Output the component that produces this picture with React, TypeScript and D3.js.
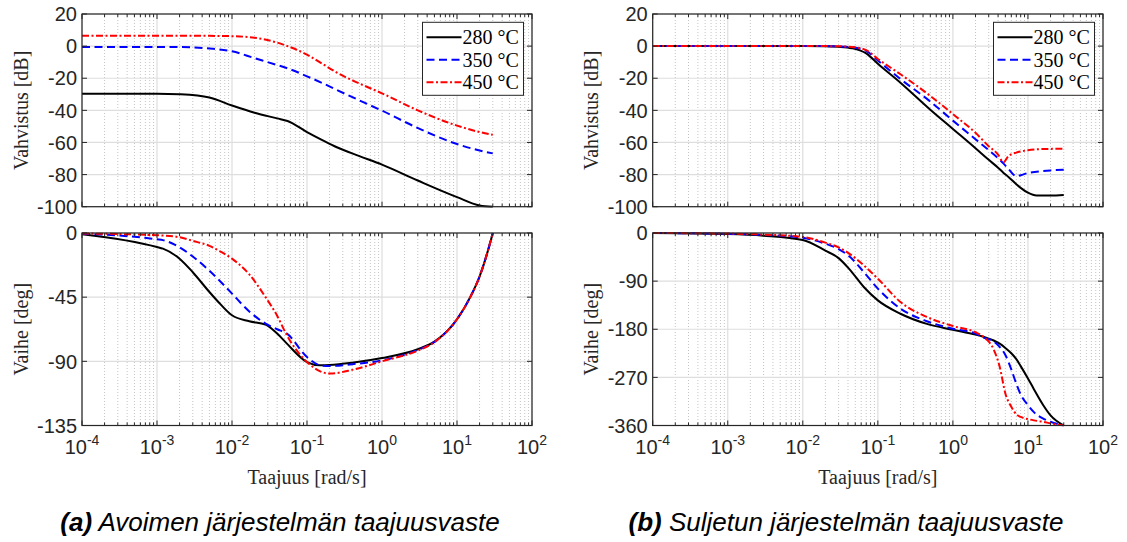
import React from 'react';
import * as d3 from 'd3';

const W = 1127;
const H = 542;

const seriesNames = ['280 °C', '350 °C', '450 °C'];
const seriesColors = ['#000000', '#0000ff', '#ff0000'];
const seriesDash = ['none', '8,4.5', '7,2.5,2,2.5'];

const xTickExps = [-4, -3, -2, -1, 0, 1, 2];

// (a) open loop – gain [dB]
const freqOpenGain = [1e-4, 1e-3, 0.002, 0.005, 0.01, 0.02, 0.04, 0.055, 0.1, 0.16, 0.25, 0.5, 1, 3, 10, 20, 30];
const openGain280 = [-29.6, -29.6, -30.0, -32.0, -37.0, -41.5, -45.0, -46.6, -53.5, -58.5, -63.0, -68.5, -73.8, -83.7, -94.0, -99.2, -100];
const openGain350 = [-0.5, -0.5, -0.6, -1.5, -3.2, -7.5, -11.8, -13.8, -18.8, -23.0, -27.3, -33.8, -40.2, -51.0, -61.0, -65.0, -66.8];
const openGain450 = [6.5, 6.5, 6.5, 6.4, 6.2, 5.2, 2.2, 0.0, -5.3, -11.0, -16.5, -23.3, -29.4, -40.0, -49.5, -53.5, -55.2];

// (a) open loop – phase [deg]
const freqOpenPhase = [1e-4, 1e-3, 0.0012, 0.002, 0.003, 0.005, 0.007, 0.01, 0.017, 0.028, 0.04, 0.054, 0.1, 0.15, 0.2, 0.4, 1, 3, 5, 10, 15, 20, 25, 30];
const openPhase280 = [-0.8, -9.8, -11.0, -18.0, -27.5, -41.4, -49.9, -57.7, -61.9, -64.3, -70.5, -77.6, -90.5, -92.8, -92.6, -91.0, -87.7, -81.5, -76.2, -60.5, -45.0, -30.5, -15.0, 0];
const openPhase350 = [-0.5, -4.4, -5.0, -10.0, -16.5, -26.5, -34.0, -42.5, -55.0, -63.5, -67.5, -70.6, -87.0, -92.8, -93.3, -92.0, -89.3, -82.0, -76.4, -60.5, -45.0, -30.5, -15.0, 0];
const openPhase450 = [-0.3, -1.6, -1.8, -3.0, -5.5, -9.0, -13.0, -18.0, -29.0, -45.0, -58.0, -71.8, -90.5, -97.0, -98.6, -96.0, -90.0, -82.5, -76.6, -60.5, -45.0, -30.5, -15.0, 0];

// (b) closed loop – gain [dB]
const freqClosedGain = [1e-4, 0.01, 0.02, 0.03, 0.045, 0.07, 0.1, 0.2, 0.5, 1, 2, 3, 4, 4.7, 5.5, 7, 8, 10, 13, 20, 30];
const closedGain280 = [0, 0, -0.1, -0.4, -1.3, -4.5, -11.0, -22.8, -39.6, -51.6, -63.6, -70.8, -75.7, -78.8, -81.5, -86.0, -88.3, -91.3, -93.1, -93.1, -92.7];
const closedGain350 = [0, 0, 0, -0.2, -0.7, -3.0, -9.0, -20.5, -34.5, -46.4, -58.0, -64.8, -69.8, -73.0, -76.5, -81.0, -80.4, -79.0, -78.2, -77.4, -77.0];
const closedGain450 = [0, 0, 0, -0.1, -0.5, -2.5, -8.0, -17.5, -31.0, -42.3, -54.0, -62.3, -67.5, -72.3, -68.5, -66.3, -65.6, -64.8, -64.3, -64.0, -63.9];

// (b) closed loop – phase [deg]
const freqClosedPhase = [1e-4, 1e-3, 0.003, 0.01, 0.02, 0.03, 0.042, 0.065, 0.1, 0.2, 0.45, 1, 2, 2.6, 3.5, 4.2, 5, 6, 7, 8, 10, 12, 16, 20, 30];
const closedPhase280 = [-0.2, -2, -5, -13, -33, -47, -68, -101, -126, -151, -170, -181, -190, -194.5, -201, -207, -215, -225, -236, -249, -272, -292, -322, -341, -360];
const closedPhase350 = [0, -1.5, -3.5, -9, -20, -30, -44, -73, -104, -141.5, -165, -179, -188, -196, -203, -213, -228, -255, -282, -302, -322, -335, -347, -353, -360];
const closedPhase450 = [0, -1, -3, -7.5, -18, -27, -39, -60.5, -85.4, -129, -157, -174, -185.5, -195, -218, -250, -300, -325, -339, -344, -348, -350.4, -353, -356, -360];

const gainTicks = [20, 0, -20, -40, -60, -80, -100];
const openPhaseTicks = [0, -45, -90, -135];
const closedPhaseTicks = [0, -90, -180, -270, -360];

const captionTags = ['(a)', '(b)'];
const captionTexts = ['Avoimen järjestelmän taajuusvaste', 'Suljetun järjestelmän taajuusvaste'];

const SANS = "'Liberation Sans', Arial, Helvetica, sans-serif";
const SERIF = "'Liberation Serif', 'Times New Roman', Times, serif";
const AXIS = '#262626';

type PanelProps = {
  id: string;
  x0: number;
  x1: number;
  y0: number;
  y1: number;
  yDomain: [number, number];
  yTicks: number[];
  freqs: number[];
  values: number[][];
  ylabel: string;
  legend?: boolean;
  xAxisLabels?: boolean;
};

function Panel(p: PanelProps) {
  const x = d3.scaleLog().domain([1e-4, 1e2]).range([p.x0, p.x1]);
  const y = d3.scaleLinear().domain(p.yDomain).range([p.y1, p.y0]);
  const majors = xTickExps.map((e) => Math.pow(10, e));
  const minors: number[] = [];
  for (let e = -4; e < 2; e++) {
    for (let k = 2; k <= 9; k++) minors.push(k * Math.pow(10, e));
  }
  const line = d3
    .line<number>()
    .x((_, i) => x(p.freqs[i]))
    .y((v) => y(v))
    .curve(d3.curveMonotoneX);
  const majorLen = 5;
  const minorLen = 3;
  const lw = 101;
  const lh = 73;
  const lx = p.x1 - 8.5 - lw;
  const ly = p.y0 + 8.3;
  return (
    <g>
      <defs>
        <clipPath id={p.id}>
          <rect x={p.x0} y={p.y0 - 1} width={p.x1 - p.x0} height={p.y1 - p.y0 + 2} />
        </clipPath>
      </defs>
      <rect x={p.x0} y={p.y0} width={p.x1 - p.x0} height={p.y1 - p.y0} fill="#ffffff" />
      {minors.map((m, i) => (
        <line key={'mg' + i} x1={x(m)} x2={x(m)} y1={p.y0} y2={p.y1} stroke="#c4c4c4" strokeWidth={1} strokeDasharray="1,2" />
      ))}
      {majors.map((m, i) => (
        <line key={'Mg' + i} x1={x(m)} x2={x(m)} y1={p.y0} y2={p.y1} stroke="#dedede" strokeWidth={1.2} />
      ))}
      {p.yTicks.map((t, i) => (
        <line key={'yg' + i} x1={p.x0} x2={p.x1} y1={y(t)} y2={y(t)} stroke="#dedede" strokeWidth={1.2} />
      ))}
      <g clipPath={`url(#${p.id})`}>
        {p.values.map((vals, si) => (
          <path
            key={'s' + si}
            d={line(vals) || ''}
            fill="none"
            stroke={seriesColors[si]}
            strokeWidth={2}
            strokeDasharray={seriesDash[si]}
            strokeLinejoin="round"
          />
        ))}
      </g>
      <rect x={p.x0} y={p.y0} width={p.x1 - p.x0} height={p.y1 - p.y0} fill="none" stroke={AXIS} strokeWidth={1.2} />
      {majors.map((m, i) => (
        <g key={'Mt' + i}>
          <line x1={x(m)} x2={x(m)} y1={p.y1} y2={p.y1 - majorLen} stroke={AXIS} strokeWidth={1} />
          <line x1={x(m)} x2={x(m)} y1={p.y0} y2={p.y0 + majorLen} stroke={AXIS} strokeWidth={1} />
        </g>
      ))}
      {minors.map((m, i) => (
        <g key={'mt' + i}>
          <line x1={x(m)} x2={x(m)} y1={p.y1} y2={p.y1 - minorLen} stroke={AXIS} strokeWidth={1} />
          <line x1={x(m)} x2={x(m)} y1={p.y0} y2={p.y0 + minorLen} stroke={AXIS} strokeWidth={1} />
        </g>
      ))}
      {p.yTicks.map((t, i) => (
        <g key={'yt' + i}>
          <line x1={p.x0} x2={p.x0 + majorLen} y1={y(t)} y2={y(t)} stroke={AXIS} strokeWidth={1} />
          <line x1={p.x1} x2={p.x1 - majorLen} y1={y(t)} y2={y(t)} stroke={AXIS} strokeWidth={1} />
          <text
            x={p.x0 - 5}
            y={y(t)}
            dy="0.36em"
            textAnchor="end"
            fontFamily={SANS}
            fontSize={20}
            fill={AXIS}
          >
            {String(t)}
          </text>
        </g>
      ))}
      <text
        transform={`translate(${p.x0 - 61},${(p.y0 + p.y1) / 2}) rotate(-90)`}
        textAnchor="middle"
        dy="0.33em"
        fontFamily={SERIF}
        fontSize={20}
        fill={AXIS}
      >
        {p.ylabel}
      </text>
      {p.xAxisLabels &&
        xTickExps.map((e, i) => (
          <text key={'xl' + i} x={x(Math.pow(10, e))} y={p.y1 + 28} textAnchor="middle" fontFamily={SANS} fontSize={20} fill={AXIS}>
            <tspan>10</tspan>
            <tspan dy={-9} fontSize={14}>
              {String(e)}
            </tspan>
          </text>
        ))}
      {p.xAxisLabels && (
        <text x={(p.x0 + p.x1) / 2} y={p.y1 + 58} textAnchor="middle" fontFamily={SERIF} fontSize={20} fill={AXIS}>
          Taajuus [rad/s]
        </text>
      )}
      {p.legend && (
        <g>
          <rect x={lx} y={ly} width={lw} height={lh} fill="#ffffff" stroke={AXIS} strokeWidth={1} />
          {seriesNames.map((n, si) => {
            const cy = ly + 15 + si * 22.5;
            return (
              <g key={'lg' + si}>
                <line x1={lx + 4} x2={lx + 39} y1={cy} y2={cy} stroke={seriesColors[si]} strokeWidth={2} strokeDasharray={seriesDash[si]} />
                <text x={lx + 40} y={cy} dy="0.34em" fontFamily={SERIF} fontSize={20} fill="#000">
                  {n}
                </text>
              </g>
            );
          })}
        </g>
      )}
    </g>
  );
}

export default function App() {
  const left = { x0: 82, x1: 532 };
  const right = { x0: 652.7, x1: 1103 };
  const top = { y0: 14, y1: 206.7 };
  const bottom = { y0: 233, y1: 425.5 };
  return (
    <svg width={W} height={H} viewBox={`0 0 ${W} ${H}`} style={{ position: 'absolute', left: 0, top: 0, background: '#fff' }}>
      <rect width={W} height={H} fill="#fff" />
      <Panel
        id="c1"
        {...left}
        {...top}
        yDomain={[-100, 20]}
        yTicks={gainTicks}
        freqs={freqOpenGain}
        values={[openGain280, openGain350, openGain450]}
        ylabel="Vahvistus [dB]"
        legend
      />
      <Panel
        id="c2"
        {...left}
        {...bottom}
        yDomain={[-135, 0]}
        yTicks={openPhaseTicks}
        freqs={freqOpenPhase}
        values={[openPhase280, openPhase350, openPhase450]}
        ylabel="Vaihe [deg]"
        xAxisLabels
      />
      <Panel
        id="c3"
        {...right}
        {...top}
        yDomain={[-100, 20]}
        yTicks={gainTicks}
        freqs={freqClosedGain}
        values={[closedGain280, closedGain350, closedGain450]}
        ylabel="Vahvistus [dB]"
        legend
      />
      <Panel
        id="c4"
        {...right}
        {...bottom}
        yDomain={[-360, 0]}
        yTicks={closedPhaseTicks}
        freqs={freqClosedPhase}
        values={[closedPhase280, closedPhase350, closedPhase450]}
        ylabel="Vaihe [deg]"
        xAxisLabels
      />
      {captionTexts.map((c, i) => (
        <text key={'cap' + i} x={i === 0 ? 280 : 846} y={531} textAnchor="middle" fontFamily={SANS} fontStyle="italic" fontSize={26} fill="#000">
          <tspan fontWeight="bold">{captionTags[i]}</tspan>
          <tspan> {c}</tspan>
        </text>
      ))}
    </svg>
  );
}
